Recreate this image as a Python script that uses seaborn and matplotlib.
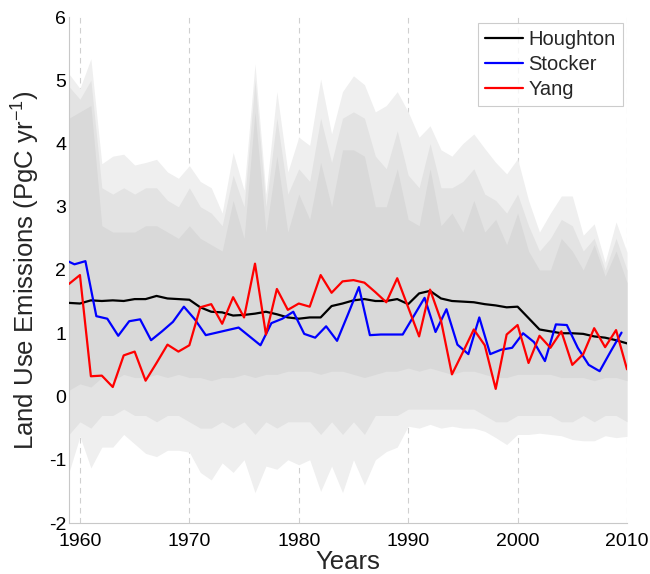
import numpy as np
import pandas as pd
import matplotlib
matplotlib.use("Agg")
import matplotlib.pyplot as plt
import seaborn as sns

years = list(range(1959, 2011))
stocker_years = [y - 0.5 for y in years]

houghton = [1.48, 1.47, 1.52, 1.51, 1.52, 1.51, 1.54, 1.54, 1.59, 1.55,
            1.54, 1.53, 1.41, 1.34, 1.33, 1.28, 1.29, 1.31, 1.34, 1.30,
            1.25, 1.23, 1.25, 1.25, 1.43, 1.47, 1.52, 1.54, 1.51, 1.51,
            1.54, 1.46, 1.63, 1.67, 1.55, 1.51, 1.50, 1.49, 1.46, 1.44,
            1.41, 1.42, 1.24, 1.06, 1.03, 1.00, 1.00, 0.99, 0.95, 0.93,
            0.89, 0.84]
stocker = [2.17, 2.09, 2.14, 1.27, 1.23, 0.96, 1.19, 1.22, 0.89, 1.03,
           1.18, 1.42, 1.22, 0.97, 1.01, 1.05, 1.09, 0.95, 0.81, 1.16,
           1.23, 1.34, 0.99, 0.93, 1.11, 0.88, 1.30, 1.73, 0.97, 0.98,
           0.98, 0.98, 1.27, 1.56, 1.02, 1.38, 0.82, 0.67, 1.25, 0.67,
           0.74, 0.77, 1.00, 0.86, 0.56, 1.14, 1.13, 0.77, 0.50, 0.40,
           0.71, 1.01]
yang = [1.78, 1.92, 0.32, 0.33, 0.15, 0.65, 0.71, 0.25, 0.53, 0.82,
        0.71, 0.81, 1.41, 1.46, 1.15, 1.57, 1.25, 2.10, 0.98, 1.70,
        1.37, 1.47, 1.42, 1.92, 1.64, 1.82, 1.84, 1.80, 1.65, 1.49,
        1.87, 1.41, 0.95, 1.69, 1.20, 0.35, 0.70, 1.06, 0.81, 0.12,
        0.98, 1.13, 0.53, 0.96, 0.77, 1.03, 0.50, 0.67, 1.08, 0.78,
        1.05, 0.43]

# ensemble envelope (read from the grey cloud)
gray_max = [5.10, 4.87, 5.34, 3.68, 3.80, 3.83, 3.66, 3.70, 3.75, 3.55,
            3.45, 3.65, 3.40, 3.30, 2.90, 3.86, 3.26, 5.26, 3.20, 4.82,
            3.55, 4.10, 3.97, 5.02, 4.15, 4.82, 5.07, 4.93, 4.50, 4.60,
            4.82, 4.50, 4.10, 4.28, 3.90, 3.80, 4.00, 4.15, 3.92, 3.70,
            3.52, 3.76, 3.10, 2.60, 2.90, 3.17, 3.17, 2.55, 2.73, 2.12,
            2.76, 2.28]
gray_hi = [4.9, 4.7, 5.0, 3.3, 3.2, 3.3, 3.2, 3.3, 3.3, 3.1,
           3.0, 3.3, 3.0, 2.9, 2.7, 3.5, 3.0, 5.0, 3.0, 4.4,
           3.2, 3.6, 3.4, 4.4, 3.7, 4.4, 4.5, 4.4, 3.8, 3.6,
           4.2, 3.5, 3.3, 4.0, 3.3, 3.3, 3.4, 3.6, 3.2, 3.1,
           2.9, 3.2, 2.7, 2.3, 2.5, 2.8, 2.7, 2.3, 2.5, 2.0,
           2.5, 2.0]
gray_core_hi = [4.4, 4.5, 4.6, 2.7, 2.6, 2.6, 2.6, 2.7, 2.7, 2.6,
                2.5, 2.7, 2.5, 2.4, 2.3, 3.1, 2.5, 4.5, 2.6, 3.8,
                2.6, 3.2, 2.8, 3.7, 3.0, 3.9, 3.9, 3.8, 3.0, 3.0,
                3.6, 2.8, 2.7, 3.6, 2.7, 2.9, 2.6, 3.1, 2.6, 2.8,
                2.4, 2.9, 2.3, 2.0, 2.0, 2.5, 2.3, 2.0, 2.4, 1.9,
                2.3, 1.8]
gray_core_lo = [0.10, 0.20, 0.15, 0.30, 0.25, 0.35, 0.30, 0.30, 0.35, 0.30,
                0.35, 0.30, 0.30, 0.25, 0.30, 0.30, 0.35, 0.30, 0.35, 0.35,
                0.40, 0.40, 0.40, 0.35, 0.40, 0.40, 0.35, 0.30, 0.35, 0.40,
                0.40, 0.45, 0.40, 0.45, 0.40, 0.35, 0.40, 0.40, 0.35, 0.30,
                0.30, 0.35, 0.35, 0.35, 0.35, 0.30, 0.30, 0.30, 0.25, 0.30,
                0.30, 0.25]
gray_lo = [-0.6, -0.4, -0.5, -0.3, -0.3, -0.2, -0.3, -0.3, -0.4, -0.3,
           -0.3, -0.4, -0.5, -0.5, -0.4, -0.5, -0.4, -0.6, -0.4, -0.5,
           -0.4, -0.4, -0.4, -0.6, -0.4, -0.6, -0.4, -0.6, -0.3, -0.3,
           -0.3, -0.2, -0.2, -0.2, -0.2, -0.2, -0.2, -0.2, -0.3, -0.4,
           -0.4, -0.3, -0.3, -0.3, -0.3, -0.4, -0.4, -0.3, -0.4, -0.3,
           -0.3, -0.4]
gray_min = [-1.20, -0.63, -1.13, -0.80, -0.80, -0.60, -0.75, -0.90, -0.95, -0.85,
            -0.85, -0.88, -1.20, -1.32, -1.05, -1.20, -1.00, -1.52, -1.10, -1.15,
            -1.00, -1.08, -1.00, -1.50, -1.10, -1.52, -1.00, -1.40, -1.00, -0.87,
            -0.80, -0.47, -0.50, -0.44, -0.50, -0.47, -0.50, -0.50, -0.55, -0.65,
            -0.76, -0.60, -0.60, -0.58, -0.60, -0.62, -0.68, -0.70, -0.70, -0.62,
            -0.65, -0.63]

sns.set_style("white")
plt.rcParams["font.family"] = ["Liberation Sans", "DejaVu Sans"]
plt.rcParams["axes.unicode_minus"] = False
plt.rcParams["mathtext.fontset"] = "custom"
plt.rcParams["mathtext.rm"] = "Liberation Sans"
plt.rcParams["mathtext.it"] = "Liberation Sans:italic"
plt.rcParams["mathtext.default"] = "regular"

fig = plt.figure(figsize=(6.5, 5.74), dpi=100)
ax = fig.add_axes([69/650, 1-523/574, (627-69)/650, (523-17)/574])

# grey ensemble cloud
ax.fill_between(years, gray_min, gray_max, color="#efefef", lw=0, zorder=1)
ax.fill_between(years, gray_lo, gray_hi, color="#e3e3e3", lw=0, zorder=1)
ax.fill_between(years, gray_core_lo, gray_core_hi, color="#d9d9d9", lw=0, zorder=1)

df = pd.concat([
    pd.DataFrame({"year": years, "val": houghton, "src": "Houghton"}),
    pd.DataFrame({"year": stocker_years, "val": stocker, "src": "Stocker"}),
    pd.DataFrame({"year": years, "val": yang, "src": "Yang"}),
])
sns.lineplot(data=df, x="year", y="val", hue="src",
             palette={"Houghton": "black", "Stocker": "#0000ff", "Yang": "#ff0000"},
             linewidth=1.6, ax=ax, zorder=3, legend=True)

ax.set_xlim(1959, 2010)
ax.set_ylim(-2, 6)
ax.set_xticks([1960, 1970, 1980, 1990, 2000, 2010])
ax.set_yticks([-2, -1, 0, 1, 2, 3, 4, 5, 6])
for xv in [1960, 1970, 1980, 1990, 2000, 2010]:
    ax.axvline(xv, color="#d0d0d0", lw=0.8, ls=(0, (5, 4)), zorder=0.5)

ax.tick_params(axis="both", labelsize=14, direction="in", length=4,
               color="#c8c8c8", labelcolor="black")
ax.tick_params(axis="y", pad=2)
ax.tick_params(axis="x", pad=7)
for s in ["top", "right"]:
    ax.spines[s].set_visible(False)
for s in ["left", "bottom"]:
    ax.spines[s].set_color("#c8c8c8")
    ax.spines[s].set_linewidth(0.8)

ax.set_xlabel("Years", fontsize=18.5, labelpad=0)
ax.set_ylabel("Land Use Emissions (PgC yr$^{-1}$)", fontsize=18.5, labelpad=5)

leg = ax.legend(loc="upper right", bbox_to_anchor=(0.992, 0.988), borderaxespad=0,
                fontsize=14.5, frameon=True, fancybox=False, handlelength=1.9,
                handletextpad=0.25, labelspacing=0.3, borderpad=0.35)
leg.get_frame().set_edgecolor("#c0c0c0")
leg.get_frame().set_linewidth(0.8)
for h in leg.get_lines():
    h.set_linewidth(1.6)

fig.savefig("out.png", dpi=100)
